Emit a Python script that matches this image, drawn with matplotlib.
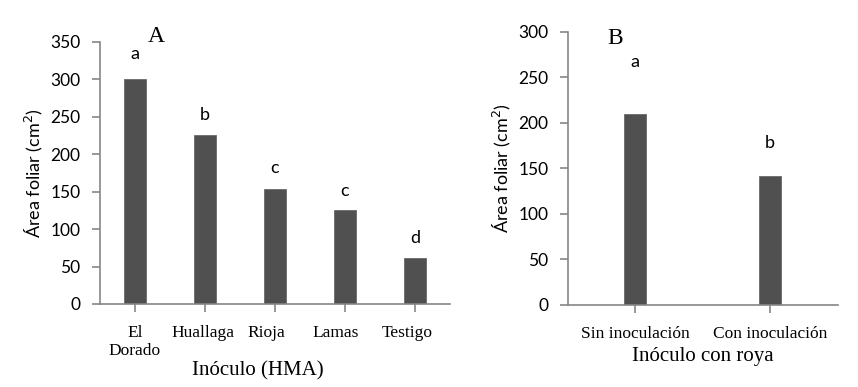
import matplotlib
matplotlib.use("Agg")
import matplotlib.pyplot as plt
import matplotlib.transforms as mtransforms

# ---- data ----
cat_a = ["El\nDorado", "Huallaga", "Rioja", "Lamas", "Testigo"]
val_a = [300, 226, 154, 126, 62]
let_a = ["a", "b", "c", "c", "d"]

cat_b = ["Sin inoculación", "Con inoculación"]
val_b = [210, 142]
let_b = ["a", "b"]

yticks_a = [0, 50, 100, 150, 200, 250, 300, 350]
yticks_b = [0, 50, 100, 150, 200, 250, 300]

# ---- style ----
SANS = ["Lato", "DejaVu Sans"]
SERIF = ["Liberation Serif", "DejaVu Serif"]
BAR = "#505050"
AX = "#868686"
W, H = 858, 387

fig = plt.figure(figsize=(W / 100, H / 100), dpi=100)

def px_axes(l, r, t, b):
    return fig.add_axes([l / W, (H - b) / H, (r - l) / W, (b - t) / H])

axA = px_axes(100, 450, 42, 304)
axB = px_axes(567.7, 837.7, 32, 304.7)

def style(ax, cats, vals, yt, width, letters, let_off, lab_off, xlabel, xl_coords):
    x = list(range(len(cats)))
    ax.bar(x, vals, width=width, color=BAR, edgecolor="#6a6a6a", linewidth=0.6, zorder=2)
    ax.set_xlim(-0.5, len(cats) - 0.5)
    ax.set_ylim(yt[0], yt[-1])
    ax.set_yticks(yt)
    ax.set_yticklabels([str(v) for v in yt], fontfamily=SANS, fontsize=12.5)
    ax.set_xticks(x)
    ax.set_xticklabels(cats, fontfamily=SERIF, fontsize=12.5, linespacing=1.15)
    for sp in ["top", "right"]:
        ax.spines[sp].set_visible(False)
    for sp in ["left", "bottom"]:
        ax.spines[sp].set_color(AX)
        ax.spines[sp].set_linewidth(1.2)
    ax.tick_params(axis="both", colors=AX, labelcolor="black", length=6, width=1.2, direction="out")
    ax.tick_params(axis="x", pad=9)
    ax.tick_params(axis="y", pad=8)
    for lbl, off in zip(ax.get_xticklabels(), lab_off):
        lbl.set_transform(lbl.get_transform() + mtransforms.ScaledTranslation(off / 100, 0, fig.dpi_scale_trans))
    for xi, v, t, o in zip(x, vals, letters, let_off):
        ax.annotate(t, (xi, v), xytext=(0, o), textcoords="offset pixels",
                    ha="center", va="baseline", fontfamily=SANS, fontsize=13)
    ax.set_ylabel("Área foliar (cm$^2$)", fontfamily=SANS, fontsize=13)
    ax.set_xlabel(xlabel, fontfamily=SERIF, fontsize=15)
    ax.xaxis.set_label_coords(*xl_coords)
    ax.xaxis.label.set_va("center")

style(axA, cat_a, val_a, yticks_a, 0.32, let_a, [20, 15, 16, 14, 15], [0, -2, -9, -9, -8],
      "Inóculo (HMA)", (0.451, -0.255))
style(axB, cat_b, val_b, yticks_b, 0.166, let_b, [47, 28], [0, 0],
      "Inóculo con roya", (0.5, -0.19))

axA.yaxis.set_label_coords(-0.157, 0.5)
axB.yaxis.set_label_coords(-0.203, 0.5)

fig.text(156 / W, 1 - 36.5 / H, "A", fontfamily=SERIF, fontsize=17, ha="center", va="center")
fig.text(615.5 / W, 1 - 38.5 / H, "B", fontfamily=SERIF, fontsize=17, ha="center", va="center")

fig.savefig("out.png", dpi=100, facecolor="white")
